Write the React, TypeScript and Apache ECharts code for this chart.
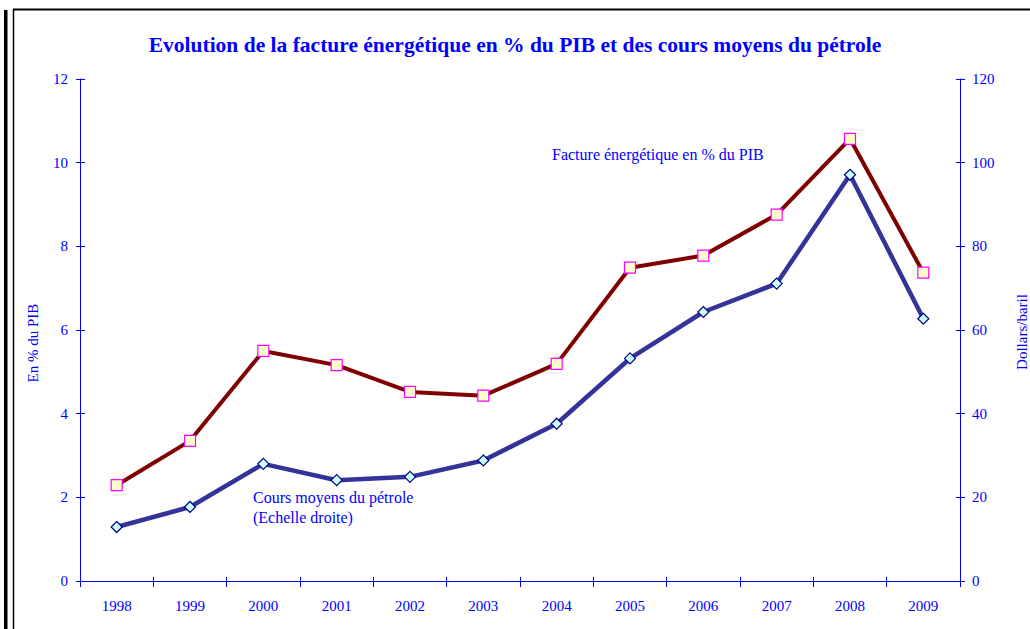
import React, { useEffect, useRef } from "react";
import * as echarts from "echarts";

const years = ["1998", "1999", "2000", "2001", "2002", "2003", "2004", "2005", "2006", "2007", "2008", "2009"];
const facturePIB = [2.29, 3.35, 5.5, 5.16, 4.52, 4.43, 5.19, 7.49, 7.78, 8.76, 10.57, 7.37];
const coursPetrole = [12.9, 17.7, 28.0, 24.1, 24.9, 28.8, 37.6, 53.2, 64.3, 71.1, 97.1, 62.7];

const titleText = "Evolution de la facture énergétique en % du PIB et des cours moyens du pétrole";
const labelFacture = "Facture énergétique en % du PIB";
const labelCours1 = "Cours moyens du pétrole";
const labelCours2 = "(Echelle droite)";
const leftAxisName = "En % du PIB";
const rightAxisName = "Dollars/baril";

const BLUE = "#0000ff";
const FONT = "'Liberation Serif', 'Times New Roman', serif";

export default function App() {
  const ref = useRef<HTMLDivElement>(null);
  useEffect(() => {
    document.body.style.margin = "0";
    document.body.style.overflow = "hidden";
    const chart = echarts.init(ref.current!, undefined, { renderer: "svg" });
    const baseY = {
      type: "value" as const,
      axisLine: { show: true, lineStyle: { color: BLUE, width: 1 } },
      splitLine: { show: false },
    };
    chart.setOption({
      animation: false,
      backgroundColor: "#ffffff",
      textStyle: { fontFamily: FONT },
      title: {
        text: titleText,
        left: "center",
        top: 29,
        textStyle: { color: BLUE, fontSize: 21.5, fontWeight: "bold", fontFamily: FONT },
      },
      grid: { left: 80, right: 70, top: 79, bottom: 48, containLabel: false, outerBoundsMode: "none" },
      xAxis: [
        {
          type: "category",
          data: years,
          boundaryGap: true,
          axisLine: { lineStyle: { color: BLUE, width: 1 } },
          axisTick: { show: true, length: 6, lineStyle: { color: BLUE } },
          axisLabel: { color: BLUE, fontSize: 15, fontFamily: FONT, margin: 17 },
        },
        {
          type: "category",
          data: years,
          position: "bottom",
          boundaryGap: true,
          axisLine: { show: false },
          axisTick: { show: true, inside: true, length: 4, lineStyle: { color: BLUE } },
          axisLabel: { show: false },
        },
      ],
      yAxis: [
        {
          ...baseY,
          position: "left",
          min: 0,
          max: 12,
          interval: 2,
          axisTick: { show: true, length: 4, lineStyle: { color: BLUE } },
          axisLabel: { color: BLUE, fontSize: 15, fontFamily: FONT, margin: 12 },
        },
        {
          ...baseY,
          position: "right",
          min: 0,
          max: 120,
          interval: 20,
          axisTick: { show: true, length: 5, lineStyle: { color: BLUE } },
          axisLabel: { color: BLUE, fontSize: 15, fontFamily: FONT, margin: 12 },
        },
        {
          ...baseY,
          position: "left",
          min: 0,
          max: 12,
          interval: 2,
          axisLine: { show: false },
          axisTick: { show: true, inside: true, length: 5, lineStyle: { color: BLUE } },
          axisLabel: { show: false },
        },
        {
          ...baseY,
          position: "right",
          min: 0,
          max: 120,
          interval: 20,
          axisLine: { show: false },
          axisTick: { show: true, inside: true, length: 4, lineStyle: { color: BLUE } },
          axisLabel: { show: false },
        },
      ],
      series: [
        {
          name: rightAxisName,
          type: "line",
          yAxisIndex: 1,
          data: coursPetrole,
          lineStyle: { color: "#333399", width: 4.5 },
          symbol: "diamond",
          symbolSize: 11,
          itemStyle: { color: "#ccffff", borderColor: "#000080", borderWidth: 1.2 },
          z: 3,
        },
        {
          name: labelFacture,
          type: "line",
          yAxisIndex: 0,
          data: facturePIB,
          lineStyle: { color: "#800000", width: 4 },
          symbol: "rect",
          symbolSize: 11,
          itemStyle: { color: "#ffffcc", borderColor: "#ff00ff", borderWidth: 1.2 },
          z: 4,
        },
      ],
      graphic: [
        { type: "rect", shape: { x: 4, y: 10, width: 3.5, height: 630 }, style: { fill: "#000" }, silent: true },
        { type: "line", shape: { x1: 13.5, y1: 9.5, x2: 13.5, y2: 640 }, style: { stroke: "#000", lineWidth: 1.5 }, silent: true },
        { type: "line", shape: { x1: 13, y1: 9.5, x2: 1040, y2: 9.5 }, style: { stroke: "#000", lineWidth: 2 }, silent: true },
        {
          type: "text",
          x: 33,
          y: 343,
          rotation: Math.PI / 2,
          style: { text: leftAxisName, fill: BLUE, fontSize: 15, fontFamily: FONT, align: "center", verticalAlign: "middle" },
          silent: true,
        },
        {
          type: "text",
          x: 1022,
          y: 332,
          rotation: Math.PI / 2,
          style: { text: rightAxisName, fill: BLUE, fontSize: 15, fontFamily: FONT, align: "center", verticalAlign: "middle" },
          silent: true,
        },
        {
          type: "text",
          x: 552,
          y: 154,
          style: { text: labelFacture, fill: BLUE, fontSize: 16, fontFamily: FONT, align: "left", verticalAlign: "middle" },
          silent: true,
        },
        {
          type: "text",
          x: 253,
          y: 487,
          style: { text: labelCours1 + "\n" + labelCours2, fill: BLUE, fontSize: 16, lineHeight: 20, fontFamily: FONT, align: "left", verticalAlign: "top" },
          silent: true,
        },
      ],
    });
    return () => chart.dispose();
  }, []);
  return <div ref={ref} style={{ width: 1030, height: 629 }} />;
}
